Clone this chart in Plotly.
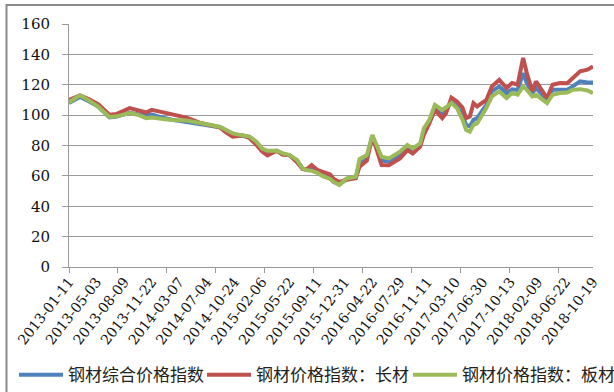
import plotly.graph_objects as go

# category index of each sampled week (weekly series, 286 weeks shown)
week_idx = [0, 6, 11, 16, 22, 26, 33, 38, 42, 45, 49, 56, 64, 71, 77, 82, 85, 89, 95, 98,
            102, 105, 108, 113, 116, 120, 124, 127, 129, 132, 135, 138, 142, 144, 147, 151,
            156, 158, 162, 165, 170, 174, 180, 184, 187, 191, 193, 196, 199, 203, 205, 208,
            211, 214, 216, 218, 220, 222, 227, 230, 234, 238, 241, 244, 247, 249, 252, 254,
            260, 263, 267, 271, 274, 278, 282, 285]

composite = [108, 112, 109, 105.5, 98.5, 99, 101.5, 100.5, 100.6, 100.5, 99, 97, 95.5, 94, 93, 92,
             90, 87.5, 86.3, 85.5, 81.5, 77.5, 76, 76.5, 74.5, 73.5, 70, 65, 64, 64, 62.5, 60,
             58.5, 56, 54.5, 57.5, 59, 68, 72, 86.5, 70, 69.5, 74, 79, 77, 80.5, 89, 95.5,
             104, 100, 103, 109, 105.7, 100, 93.6, 92.5, 96.9, 98, 106.8, 115.6, 118.9, 114.5,
             117, 116.5, 127.7, 121, 114.5, 117.8, 110, 116.7, 116.7, 116.7, 118.9, 122.2,
             121.5, 121.5]

long_steel = [110, 113, 110.5, 107, 100.2, 100.8, 104.6, 103, 101.7, 103.5, 102.5, 100.2, 98.4, 95,
              93.5, 92, 89, 85.8, 86.5, 85, 80.3, 76, 73.5, 76.5, 74, 73.5, 69, 64.5, 64, 67.1,
              64, 62.7, 61, 58, 56, 57.5, 58.5, 66, 70, 86, 67.1, 67, 71.5, 77, 74.8, 79.2,
              86.9, 94.7, 103.5, 98, 101, 111.5, 109, 105, 98, 99, 107.9, 105.7, 110, 118.9,
              123.3, 117.8, 121.1, 120, 137.6, 127.7, 115.6, 122.2, 111.2, 120, 121.1, 121,
              124.4, 128.8, 129.9, 132.1]

flat_steel = [108.5, 113, 109.5, 105.5, 98.8, 99.2, 101.3, 100, 98, 98.5, 97.8, 96.8, 96.4, 94.7,
              93.5, 92.4, 90.5, 88, 86.5, 86, 82.5, 78, 76.5, 76.5, 75, 73.7, 70.5, 65, 63.8,
              63.3, 62, 59.8, 58, 56, 54, 58.3, 59.4, 71, 73.7, 86.9, 72.6, 71.5, 75.9, 80.3,
              78.1, 81.4, 91.4, 96.9, 106.8, 103.5, 105, 108, 104.6, 97, 90.2, 89.1, 93.6, 94.7,
              104.6, 112.3, 115.6, 111.2, 114.5, 113.4, 118.9, 116.7, 112.3, 113.4, 107.9,
              113.4, 114.5, 114.9, 116.7, 117.1, 116.2, 114.5]

tick_idx = [0, 15, 30, 45, 60, 75, 90, 105, 120, 135, 150, 165, 180, 195, 210, 225, 240, 255, 270, 285]
tick_dates = ["2013-01-11", "2013-05-03", "2013-08-09", "2013-11-22", "2014-03-07", "2014-07-04",
              "2014-10-24", "2015-02-06", "2015-05-22", "2015-09-11", "2015-12-31", "2016-04-22",
              "2016-07-29", "2016-11-11", "2017-03-10", "2017-06-30", "2017-10-13", "2018-02-09",
              "2018-06-22", "2018-10-19"]

names = ["钢材综合价格指数", "钢材价格指数：长材", "钢材价格指数：板材"]
colors = ["#4F81BD", "#C0504D", "#9BBB59"]
series = [composite, long_steel, flat_steel]
legend_ids = ["legend", "legend2", "legend3"]

fig = go.Figure()
for name, color, vals, lg in zip(names, colors, series, legend_ids):
    fig.add_trace(go.Scatter(x=week_idx, y=vals, mode="lines", name=name,
                             line=dict(color=color, width=4), legend=lg))

grid = "#9a9a9a"
serif = "DejaVu Serif"
cjk = "Noto Sans CJK SC"

legend_common = dict(xref="container", yref="container", y=0.043, yanchor="middle",
                     orientation="h", bgcolor="rgba(0,0,0,0)", itemwidth=44,
                     font=dict(family=cjk, size=17, color="#222"))

fig.update_layout(
    width=614, height=392,
    margin=dict(l=69, r=21, t=24, b=125, autoexpand=False),
    paper_bgcolor="white", plot_bgcolor="white",
    showlegend=True,
    legend=dict(x=14 / 614, **legend_common),
    legend2=dict(x=202 / 614, **legend_common),
    legend3=dict(x=408 / 614, **legend_common),
    xaxis=dict(range=[0, 285], tickmode="array", tickvals=tick_idx, ticktext=tick_dates,
               tickangle=-52, ticks="", showgrid=False, showline=True, linecolor=grid,
               linewidth=1, zeroline=False, automargin=False,
               tickfont=dict(family=serif, size=14, color="#111"),
               minor=dict(tickmode="linear", tick0=0, dtick=26.6, ticks="outside",
                          ticklen=5, tickcolor=grid, showgrid=False)),
    yaxis=dict(range=[0, 160], tickmode="linear", tick0=0, dtick=20, showgrid=True,
               gridcolor=grid, gridwidth=1, showline=True, linecolor=grid, linewidth=1,
               ticks="outside", ticklen=6, tickcolor=grid, zeroline=False, automargin=False,
               ticklabelstandoff=9,
               tickfont=dict(family=serif, size=15, color="#111")),
    shapes=[dict(type="rect", xref="paper", yref="paper", x0=-0.1193, y0=-0.7, x1=1.3, y1=1.0782,
                 line=dict(color="#8a8a8a", width=2), fillcolor="rgba(0,0,0,0)", layer="below")],
)

fig.write_html("out.html")
